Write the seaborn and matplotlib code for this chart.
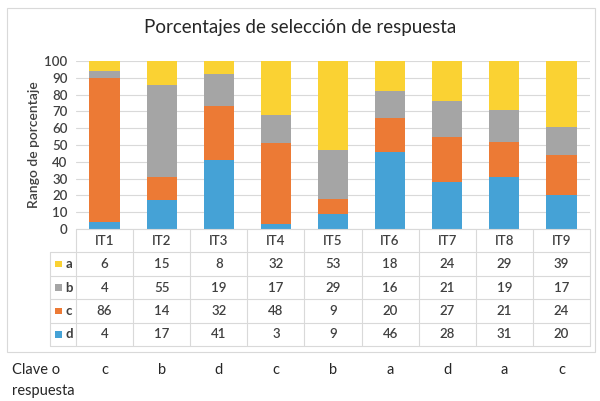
import matplotlib
matplotlib.use("Agg")
import matplotlib.pyplot as plt
import matplotlib.transforms as mtrans
from matplotlib.patches import Rectangle
import numpy as np
import pandas as pd
import seaborn as sns

items = ["IT1", "IT2", "IT3", "IT4", "IT5", "IT6", "IT7", "IT8", "IT9"]
a = [6, 15, 8, 32, 53, 18, 24, 29, 39]
b = [4, 55, 19, 17, 29, 16, 21, 19, 17]
c = [86, 14, 32, 48, 9, 20, 27, 21, 24]
d = [4, 17, 41, 3, 9, 46, 28, 31, 20]
clave = ["c", "b", "d", "c", "b", "a", "d", "a", "c"]

series = {"a": a, "b": b, "c": c, "d": d}
colors = {"a": "#FAD233", "b": "#A5A5A5", "c": "#EC7A35", "d": "#45A2D6"}
stack = ["d", "c", "b", "a"]  # bottom to top

sns.set_style("white")
plt.rcParams["font.family"] = ["Lato", "DejaVu Sans"]

fig = plt.figure(figsize=(6, 4.01), dpi=100)
W, H = 600, 401


def frac(x0, y0, x1, y1):
    return [x0 / W, 1 - y1 / H, (x1 - x0) / W, (y1 - y0) / H]


fig.patches.append(Rectangle((7 / W, 1 - 352 / H), 588 / W, 344 / H,
                             transform=fig.transFigure, fill=False,
                             edgecolor="#D9D9D9", linewidth=0.8))

ax = fig.add_axes(frac(76, 61, 590, 229))

# cumulative heights, drawn top layer first so lower layers cover them
cum = np.zeros(len(items))
tops = {}
for k in stack:
    cum = cum + np.array(series[k])
    tops[k] = cum.copy()
for k in reversed(stack):
    df = pd.DataFrame({"item": items, "value": tops[k]})
    sns.barplot(data=df, x="item", y="value", order=items, color=colors[k],
                saturation=1, width=0.53, edgecolor="none", ax=ax, zorder=3)

ax.set_ylim(0, 100)
ax.set_xlim(-0.5, len(items) - 0.5)
ax.set_yticks(range(0, 101, 10))
ax.yaxis.grid(True, color="#D9D9D9", linewidth=0.8, zorder=0)
ax.set_axisbelow(True)
for s in ax.spines.values():
    s.set_visible(False)
ax.set_xlabel("")
ax.set_xticks([])
ax.set_ylabel("Rango de porcentaje", fontsize=10, color="#404040", labelpad=3,
              fontweight="semibold")
ax.tick_params(axis="y", length=0, labelsize=9.5, labelcolor="#404040", pad=6)
for t in ax.get_yticklabels():
    t.set_fontweight("semibold")

fig.text(0.5, 1 - 28 / H, "Porcentajes de selección de respuesta",
         ha="center", va="center", fontsize=13.5, color="#262626")

# data table
axt = fig.add_axes(frac(76, 229, 590, 346))
axt.set_xlim(-0.5, len(items) - 0.5)
axt.set_ylim(5, 0)
axt.axis("off")
lc = "#D9D9D9"
n = len(items)
legend_x = -0.96
for r in range(6):
    x0 = -0.5 if r == 0 else legend_x
    axt.plot([x0, n - 0.5], [r, r], color=lc, lw=0.8, clip_on=False)
for i in range(n + 1):
    axt.plot([i - 0.5, i - 0.5], [0, 5], color=lc, lw=0.8, clip_on=False)
axt.plot([legend_x, legend_x], [1, 5], color=lc, lw=0.8, clip_on=False)

cell_kw = dict(ha="center", va="center", fontsize=9.5, color="#404040",
               fontweight="semibold")
for i, it in enumerate(items):
    axt.text(i, 0.5, it, **cell_kw)
for r, k in enumerate(["a", "b", "c", "d"], start=1):
    axt.add_patch(Rectangle((legend_x + 0.1, r + 0.5 - 0.14), 0.12, 0.28,
                            facecolor=colors[k], edgecolor="none", clip_on=False))
    axt.text(legend_x + 0.27, r + 0.5, k, ha="left", va="center", fontsize=9.5,
             color="#404040", fontweight="bold")
    for i, v in enumerate(series[k]):
        axt.text(i, r + 0.5, str(v), **cell_kw)

tr = mtrans.blended_transform_factory(axt.transData, fig.transFigure)
for i, v in enumerate(clave):
    axt.text(i, 1 - 370 / H, v, transform=tr, ha="center", va="center",
             fontsize=10.5, color="#262626")
fig.text(12 / W, 1 - 370 / H, "Clave o", ha="left", va="center", fontsize=10.5,
         color="#262626")
fig.text(12 / W, 1 - 391 / H, "respuesta", ha="left", va="center", fontsize=10.5,
         color="#262626")

fig.savefig("out.png", dpi=100)
